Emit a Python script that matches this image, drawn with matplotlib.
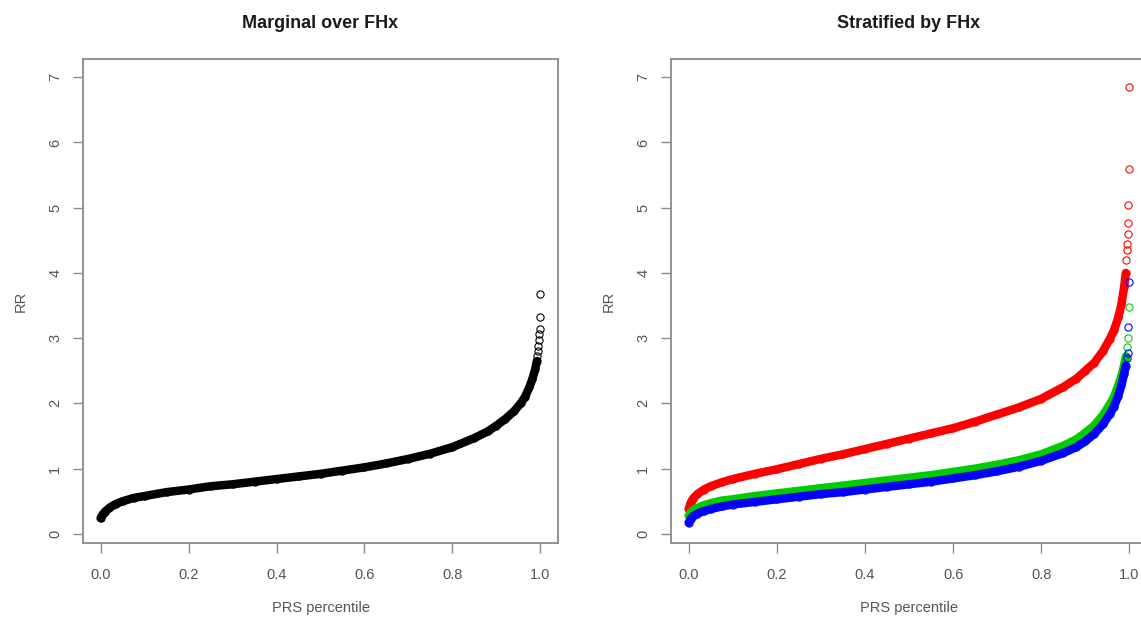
import matplotlib
matplotlib.use("Agg")
import matplotlib.pyplot as plt

plt.rcParams['font.family'] = ['Liberation Sans', 'DejaVu Sans']

# ---------------- data ----------------
pct = [0.0, 0.005, 0.01, 0.02, 0.035, 0.05, 0.075, 0.1, 0.15, 0.2, 0.25, 0.3,
       0.35, 0.4, 0.45, 0.5, 0.55, 0.6, 0.65, 0.7, 0.75, 0.8, 0.85, 0.88, 0.9,
       0.92, 0.94, 0.955, 0.965, 0.975, 0.982, 0.988, 0.992]

marg_rr = [0.24, 0.30, 0.34, 0.40, 0.46, 0.50, 0.55, 0.58, 0.64, 0.68, 0.73, 0.76,
           0.80, 0.84, 0.88, 0.92, 0.97, 1.02, 1.08, 1.15, 1.23, 1.33, 1.47, 1.57, 1.66,
           1.76, 1.88, 2.00, 2.10, 2.25, 2.38, 2.52, 2.65]
marg_tail_pct = [0.993, 0.994, 0.995, 0.996, 0.997, 0.998, 0.999, 1.0]
marg_tail_rr = [2.72, 2.80, 2.88, 2.97, 3.07, 3.14, 3.33, 3.68]

red_rr = [0.38, 0.48, 0.54, 0.61, 0.68, 0.73, 0.79, 0.84, 0.92, 0.99, 1.07, 1.15,
          1.22, 1.30, 1.38, 1.46, 1.54, 1.62, 1.72, 1.83, 1.94, 2.07, 2.25, 2.38, 2.50,
          2.62, 2.80, 2.98, 3.12, 3.32, 3.52, 3.78, 4.00]
red_tail_pct = [0.993, 0.994, 0.995, 0.996, 0.997, 0.998, 0.999, 1.0]
red_tail_rr = [4.20, 4.35, 4.45, 4.59, 4.76, 5.04, 5.59, 6.85]

green_rr = [0.28, 0.33, 0.36, 0.40, 0.44, 0.47, 0.51, 0.53, 0.58, 0.62, 0.66, 0.70,
            0.74, 0.78, 0.82, 0.86, 0.90, 0.95, 1.00, 1.06, 1.13, 1.22, 1.35, 1.45, 1.55,
            1.66, 1.82, 1.98, 2.10, 2.28, 2.42, 2.58, 2.72]
green_tail_pct = [0.995, 0.997, 0.999]
green_tail_rr = [2.86, 3.00, 3.48]

blue_rr = [0.17, 0.23, 0.27, 0.31, 0.35, 0.38, 0.42, 0.45, 0.49, 0.53, 0.57, 0.61,
           0.64, 0.68, 0.72, 0.76, 0.80, 0.85, 0.90, 0.96, 1.03, 1.12, 1.24, 1.33, 1.42,
           1.53, 1.68, 1.83, 1.95, 2.12, 2.28, 2.45, 2.58]
blue_tail_pct = [0.994, 0.996, 0.998, 1.0]
blue_tail_rr = [2.70, 2.78, 3.17, 3.86]

x_ticks = [0.0, 0.2, 0.4, 0.6, 0.8, 1.0]
x_ticklabels = ["0.0", "0.2", "0.4", "0.6", "0.8", "1.0"]
y_ticks = [0, 1, 2, 3, 4, 5, 6, 7]
titles = ["Marginal over FHx", "Stratified by FHx"]
xlabel = "PRS percentile"
ylabel = "RR"

# ---------------- figure ----------------
W, H = 1141, 619
fig = plt.figure(figsize=(W / 100, H / 100), dpi=100)

def px_axes(left, right, top, bottom):
    return fig.add_axes([left / W, (H - bottom) / H, (right - left) / W, (bottom - top) / H])

ax1 = px_axes(83, 558, 59, 543)
ax2 = px_axes(671, 1147, 59, 543)

TXT = '#555555'
BOX = '#8a8a8a'
MS = 5.2
MEW = 0.8
LW = 6.1

def style(ax, title):
    ax.set_xlim(-0.04, 1.04)
    ax.set_ylim(-0.14, 7.28)
    ax.set_xticks(x_ticks)
    ax.set_xticklabels(x_ticklabels)
    ax.set_yticks(y_ticks)
    ax.set_yticklabels([str(v) for v in y_ticks], rotation=90, va='center')
    ax.tick_params(axis='both', direction='out', length=7, width=1, colors=BOX,
                   labelcolor=TXT, labelsize=10.5)
    ax.tick_params(axis='x', pad=11)
    ax.tick_params(axis='y', pad=8)
    for s in ax.spines.values():
        s.set_color(BOX)
        s.set_linewidth(1.3)
    ax.set_title(title, fontsize=13, fontweight='bold', color='#1a1a1a', pad=22)
    ax.set_xlabel(xlabel, fontsize=10.5, color=TXT, labelpad=14)
    ax.set_ylabel(ylabel, fontsize=10.5, color=TXT, labelpad=15)

def series(ax, x, y, tx, ty, color):
    ax.plot(x, y, 'o', mfc='none', mec=color, ms=MS, mew=MEW, zorder=2)
    ax.plot(x, y, '-', color=color, lw=LW, solid_capstyle='round',
            solid_joinstyle='round', zorder=2)
    ax.plot(tx, ty, 'o', mfc='none', mec=color, ms=MS, mew=MEW, zorder=2)

series(ax1, pct, marg_rr, marg_tail_pct, marg_tail_rr, 'black')
style(ax1, titles[0])

series(ax2, pct, red_rr, red_tail_pct, red_tail_rr, '#FF0000')
series(ax2, pct, green_rr, green_tail_pct, green_tail_rr, '#00CD00')
series(ax2, pct, blue_rr, blue_tail_pct, blue_tail_rr, '#0000FF')
style(ax2, titles[1])

fig.savefig("out.png", dpi=100)
